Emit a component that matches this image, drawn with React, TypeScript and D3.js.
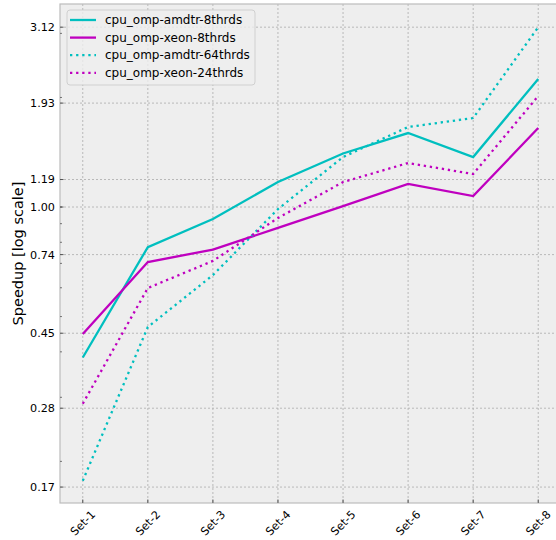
import React from "react";
import * as d3 from "d3";

const categories = ["Set-1", "Set-2", "Set-3", "Set-4", "Set-5", "Set-6", "Set-7", "Set-8"];

const amdtr8 = [0.386, 0.776, 0.927, 1.171, 1.403, 1.597, 1.372, 2.247];
const xeon8 = [0.448, 0.706, 0.764, 0.876, 1.006, 1.157, 1.072, 1.648];
const amdtr64 = [0.177, 0.468, 0.65, 0.987, 1.372, 1.659, 1.756, 3.12];
const xeon24 = [0.288, 0.599, 0.711, 0.933, 1.171, 1.321, 1.232, 2.018];

const yTicks = [0.17, 0.28, 0.45, 0.74, 1.0, 1.19, 1.93, 3.12];

const series = [
  { name: "cpu_omp-amdtr-8thrds", values: amdtr8, color: "#00bfbf", dotted: false },
  { name: "cpu_omp-xeon-8thrds", values: xeon8, color: "#bf00bf", dotted: false },
  { name: "cpu_omp-amdtr-64thrds", values: amdtr64, color: "#00bfbf", dotted: true },
  { name: "cpu_omp-xeon-24thrds", values: xeon24, color: "#bf00bf", dotted: true },
];

const width = 556;
const height = 540;
const margin = { top: 4, right: -5, bottom: 37, left: 60 };
const innerW = width - margin.left - margin.right;
const innerH = height - margin.top - margin.bottom;

const font = "DejaVu Sans, sans-serif";

// categorical axis, matplotlib-style 5% padding on each side
const xScale = d3
  .scalePoint<string>()
  .domain(categories)
  .range([innerW * 0.05 / 1.1, innerW - innerW * 0.05 / 1.1]);

const yScale = d3.scaleLog().domain([0.1537, 3.613]).range([innerH, 0]);
const minorTicks = yScale.ticks().filter((t) => t > 0.1537 && t < 3.613);

const dots = "2.3,3.8";

export default function App() {
  const line = d3
    .line<number>()
    .x((_, i) => xScale(categories[i]) as number)
    .y((d) => yScale(d));

  return (
    <svg width={width} height={height} style={{ position: "absolute", left: 0, top: 0, background: "#fff" }}>
      <g transform={`translate(${margin.left},${margin.top})`}>
        <rect x={0} y={0} width={innerW} height={innerH} fill="#eeeeee" />
        {/* grid */}
        {categories.map((c) => (
          <line key={c} x1={xScale(c)} x2={xScale(c)} y1={0} y2={innerH} stroke="#b2b2b2" strokeWidth={0.9} strokeDasharray="2,2" />
        ))}
        {yTicks.map((t) => (
          <line key={t} x1={0} x2={innerW} y1={yScale(t)} y2={yScale(t)} stroke="#b2b2b2" strokeWidth={0.9} strokeDasharray="2,2" />
        ))}
        {/* spines */}
        <rect x={0} y={0} width={innerW} height={innerH} fill="none" stroke="#bcbcbc" strokeWidth={1.2} />
        {/* series */}
        {series.map((s) => (
          <path
            key={s.name}
            d={line(s.values) as string}
            fill="none"
            stroke={s.color}
            strokeWidth={2.3}
            strokeDasharray={s.dotted ? dots : undefined}
          />
        ))}
        {/* y ticks */}
        {minorTicks.map((t) => (
          <line key={"m" + t} x1={0} x2={2} y1={yScale(t)} y2={yScale(t)} stroke="#444" strokeWidth={0.7} />
        ))}
        {yTicks.map((t) => (
          <g key={"y" + t} transform={`translate(0,${yScale(t)})`}>
            <line x1={0} x2={3.5} stroke="#444" strokeWidth={0.9} />
            <text x={-5} dy="0.35em" textAnchor="end" fontFamily={font} fontSize={11.2} fill="#000">
              {t.toFixed(2)}
            </text>
          </g>
        ))}
        {/* x ticks */}
        {categories.map((c) => (
          <g key={"x" + c} transform={`translate(${xScale(c)},${innerH})`}>
            <line y1={0} y2={-3.5} stroke="#444" strokeWidth={0.9} />
            <text
              transform="translate(0,20) rotate(-45)"
              dy="0.35em"
              textAnchor="middle"
              fontFamily={font}
              fontSize={11.2}
              fill="#000"
            >
              {c}
            </text>
          </g>
        ))}
        <text
          transform={`translate(${18 - margin.left},${innerH / 2}) rotate(-90)`}
          textAnchor="middle"
          dy="0.35em"
          fontFamily={font}
          fontSize={14.5}
          fill="#000"
        >
          Speedup [log scale]
        </text>
        {/* legend */}
        <g transform="translate(7,6)">
          <rect x={0} y={0} width={188} height={75} rx={3} fill="#eeeeee" fillOpacity={0.8} stroke="#cccccc" strokeWidth={0.9} />
          {series.map((s, i) => (
            <g key={"l" + s.name} transform={`translate(0,${10 + i * 17.6})`}>
              <line x1={3} x2={29} stroke={s.color} strokeWidth={2.3} strokeDasharray={s.dotted ? dots : undefined} />
              <text x={38} dy="0.35em" fontFamily={font} fontSize={12} fill="#000">
                {s.name}
              </text>
            </g>
          ))}
        </g>
      </g>
    </svg>
  );
}
